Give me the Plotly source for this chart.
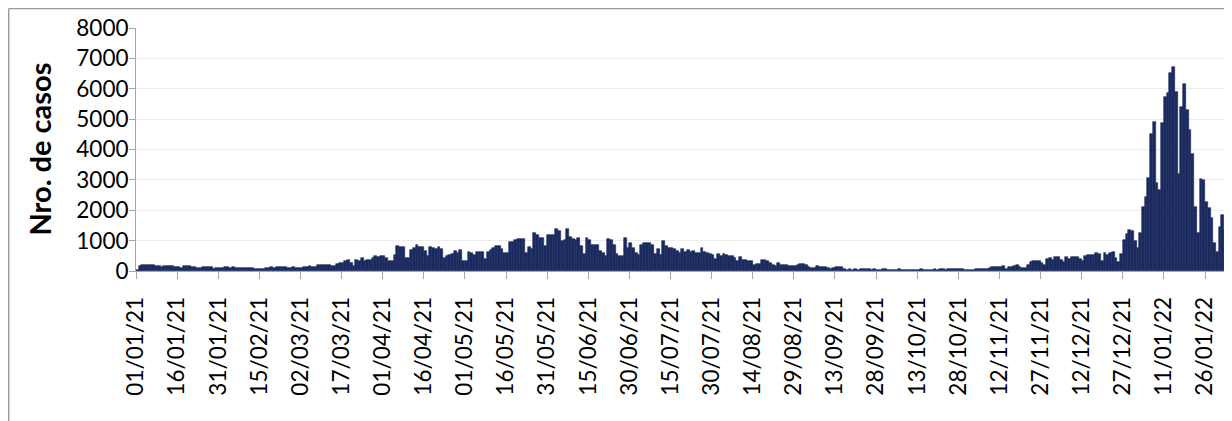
import pandas as pd
import plotly.graph_objects as go

# casos diarios, 01/01/21 - 05/02/22
ene_21 = [49, 158, 191, 185, 213, 205, 200, 180, 175, 137, 180, 178, 160, 150, 148, 145,
          93, 169, 165, 158, 137, 132, 93, 98, 126, 122, 128, 120, 71, 104, 100]
feb_21 = [108, 137, 135, 115, 118, 112, 93, 90, 104, 100, 106, 102, 82, 80, 60, 62,
          115, 112, 118, 110, 126, 122, 128, 124, 115, 112, 118, 104]
mar_21 = [104, 100, 148, 145, 150, 140, 126, 191, 185, 213, 210, 205, 180, 175, 246, 268,
          268, 345, 377, 268, 159, 377, 323, 432, 323, 356, 350, 432, 509, 465, 487]
abr_21 = [487, 432, 345, 323, 541, 815, 793, 782, 432, 440, 706, 760, 870, 800, 782, 651,
          487, 793, 760, 727, 793, 727, 432, 487, 541, 563, 651, 596, 684, 320]
may_21 = [330, 629, 596, 541, 629, 620, 635, 399, 629, 706, 760, 815, 810, 727, 596, 600,
          957, 950, 1034, 1067, 1056, 1050, 596, 782, 727, 1253, 1176, 1089, 1080, 815, 1176]
jun_21 = [1170, 1180, 1384, 1330, 979, 1034, 1395, 1110, 1067, 1034, 1089, 815, 563, 1089,
          1034, 870, 865, 848, 651, 596, 487, 1056, 1034, 848, 563, 487, 490, 1089, 760, 924]
jul_21 = [760, 596, 520, 870, 924, 918, 930, 870, 563, 738, 541, 979, 815, 760, 755, 727,
          651, 596, 738, 629, 684, 629, 651, 596, 600, 760, 629, 596, 574, 541, 399]
ago_21 = [563, 487, 563, 541, 487, 480, 432, 323, 465, 377, 356, 323, 323, 213, 235, 240,
          377, 370, 323, 268, 213, 159, 268, 213, 191, 213, 159, 180, 178, 213, 235]
sep_21 = [230, 191, 137, 104, 104, 180, 148, 126, 122, 104, 82, 85, 126, 137, 135, 71,
          49, 52, 47, 82, 49, 82, 80, 60, 62, 49, 50, 45, 49, 82]
oct_21 = [60, 38, 40, 36, 38, 60, 38, 40, 36, 27, 25, 28, 38, 71, 38, 40,
          27, 49, 50, 47, 60, 62, 49, 60, 71, 70, 71, 73, 68, 49, 38]
nov_21 = [40, 36, 60, 62, 82, 71, 73, 104, 137, 135, 140, 137, 159, 82, 126, 128,
          159, 213, 126, 115, 104, 213, 290, 323, 320, 325, 268, 213, 399, 432]
dic_21 = [377, 454, 454, 377, 290, 454, 410, 454, 465, 460, 410, 345, 487, 520, 515, 520,
          596, 563, 323, 596, 541, 596, 629, 432, 301, 563, 1034, 1220, 1362, 1330, 979]
ene_22 = [760, 1253, 2095, 2423, 3058, 4502, 4918, 2894, 2675, 4885, 5738, 5870, 6526, 6700,
          5902, 3200, 5388, 6143, 5300, 4640, 3856, 2106, 1253, 3025, 3000, 2259, 2073, 1745,
          925, 629, 1450]
feb_22 = [1855, 1362, 1034, 705, 650]

casos = (ene_21 + feb_21 + mar_21 + abr_21 + may_21 + jun_21 + jul_21 + ago_21 +
         sep_21 + oct_21 + nov_21 + dic_21 + ene_22 + feb_22)
fechas = pd.date_range("2021-01-01", periods=len(casos), freq="D")

fuente = "Lato"
gris = "#a6a6a6"

barras = go.Bar(x=fechas, y=casos, xperiod=86400000, xperiodalignment="middle",
                marker=dict(color="#1b2a5e", line=dict(width=0.6, color="#1b2a5e")))

fig = go.Figure(data=[barras])
# la pagina tiene 8px de margen, por eso l y t son menores
fig.update_layout(
    width=1224, height=413,
    margin=dict(l=128, r=0, t=20, b=150),
    plot_bgcolor="white", paper_bgcolor="white",
    bargap=0, showlegend=False,
    font=dict(family=fuente, size=22, color="black"),
)
fig.update_yaxes(range=[0, 8000], dtick=1000, showgrid=True, gridcolor="#ececec",
                 showline=True, linecolor=gris, ticks="outside", ticklen=6,
                 tickcolor=gris, zeroline=False, ticklabelstandoff=-4,
                 tickfont=dict(size=22.5))
fig.update_xaxes(type="date", range=["2021-01-01", "2022-02-04 20:00"],
                 tick0="2021-01-01", dtick=15 * 86400000, tickformat="%d/%m/%y",
                 tickangle=-90, ticks="outside", ticklen=7, tickcolor=gris,
                 showline=True, linecolor=gris, showgrid=False,
                 ticklabelstandoff=9, tickfont=dict(size=22.5))

# titulo del eje y
fig.add_annotation(text="<b>Nro. de casos</b>", xref="paper", yref="paper",
                   x=-0.0885, y=0.5, textangle=-90, showarrow=False,
                   xanchor="center", yanchor="middle", font=dict(size=29))

# marco del grafico (recortado arriba y a la izquierda)
fig.add_shape(type="line", xref="paper", yref="paper", x0=-0.116, x1=1.01,
              y0=1.0805, y1=1.0805, line=dict(color="#9a9a9a", width=1.5))
fig.add_shape(type="line", xref="paper", yref="paper", x0=-0.1162, x1=-0.1162,
              y0=1.0805, y1=-0.63, line=dict(color="#9a9a9a", width=1.5))

fig.write_html("out.html")
